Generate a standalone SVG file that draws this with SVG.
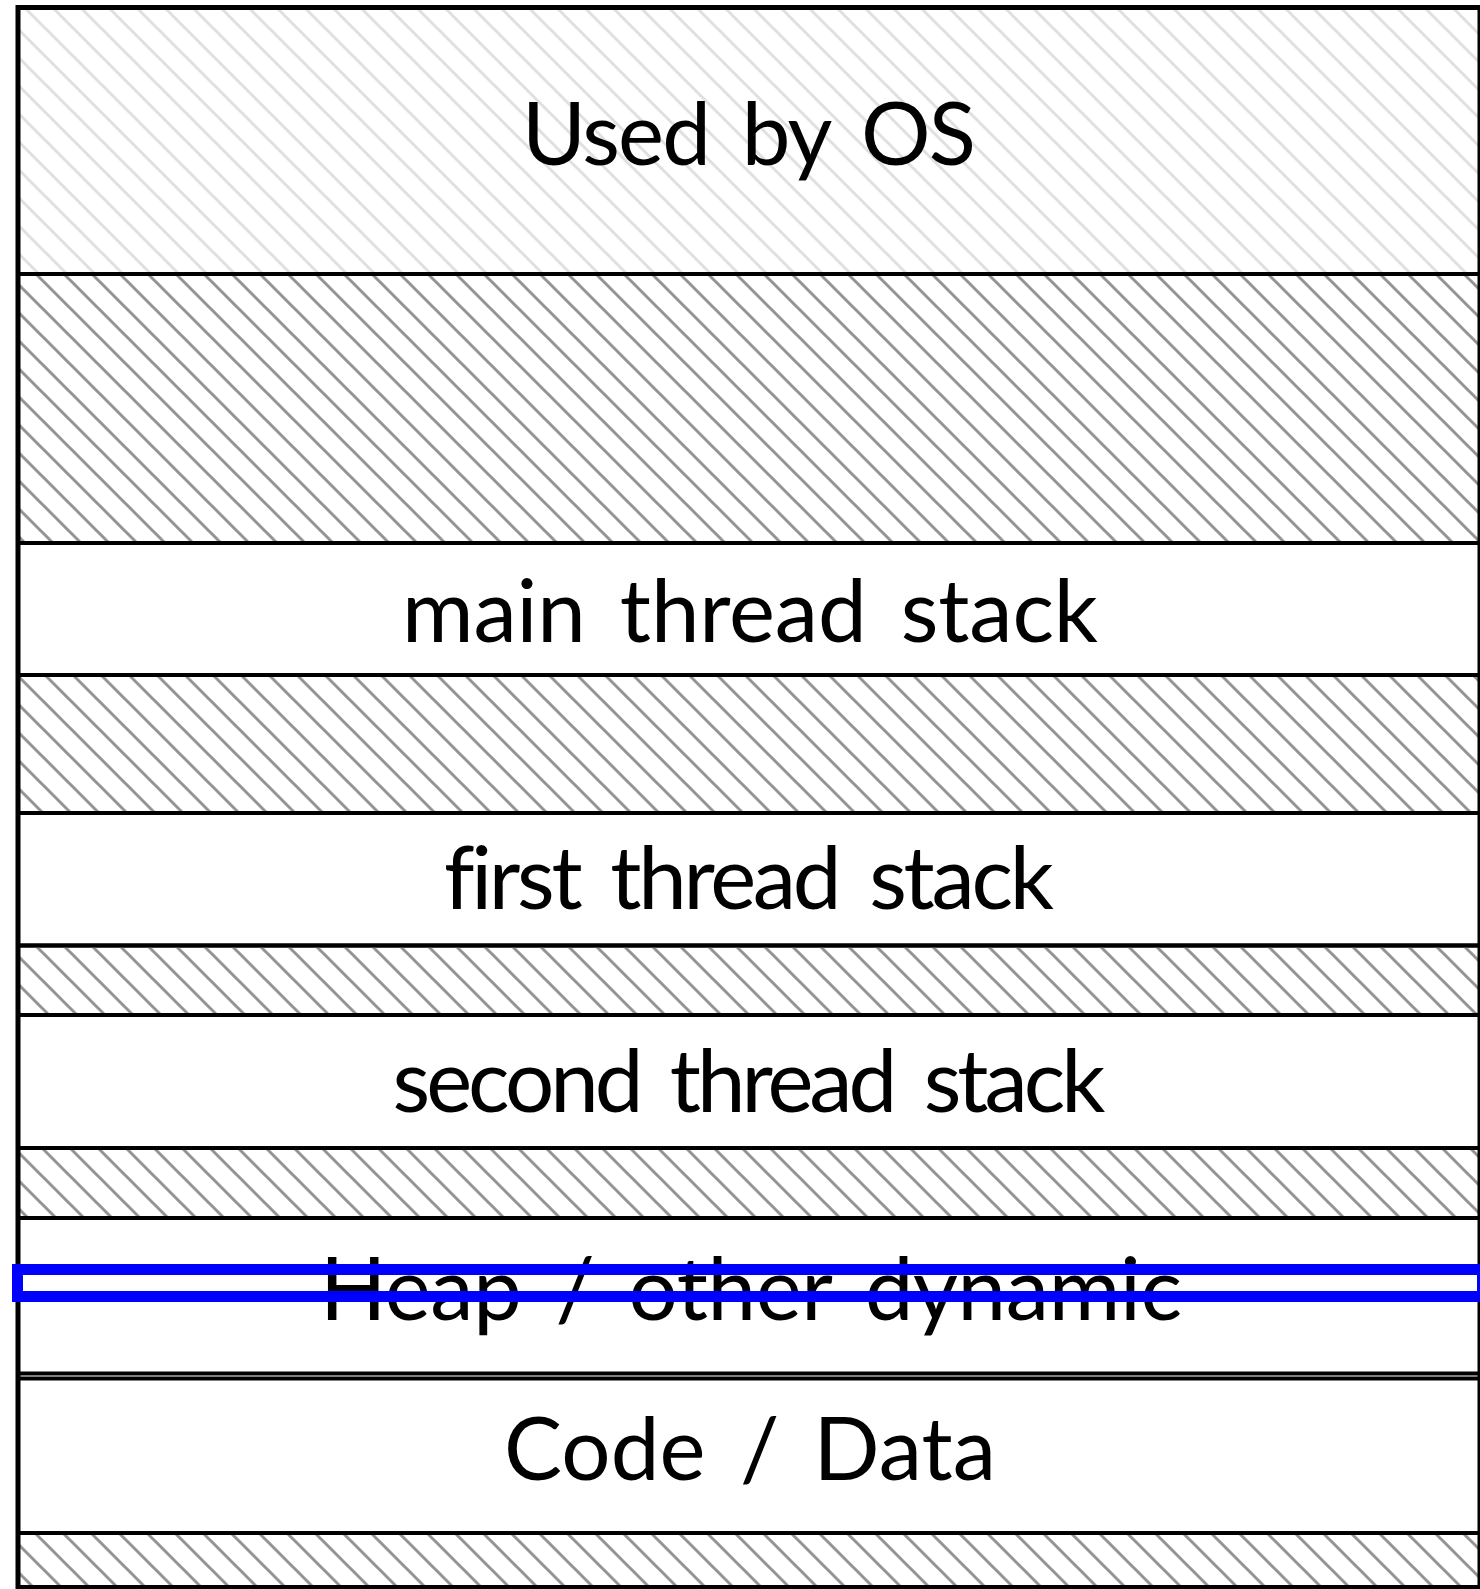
<svg xmlns="http://www.w3.org/2000/svg" width="1480" height="1589" viewBox="0 0 1480 1589">
  <defs>
    <pattern id="hatchDark" patternUnits="userSpaceOnUse" width="28" height="28" patternTransform="translate(14,0)">
      <path d="M-7,21 L7,35 M0,0 L28,28 M21,-7 L35,7" stroke="#949494" stroke-width="3" fill="none"/>
    </pattern>
    <pattern id="hatchLight" patternUnits="userSpaceOnUse" width="28" height="28" patternTransform="translate(17,0)">
      <path d="M-7,21 L7,35 M0,0 L28,28 M21,-7 L35,7" stroke="#e0e0e0" stroke-width="3" fill="none"/>
    </pattern>
    <style>
      .box { stroke: #000; stroke-width: 4; }
      .white { fill: #fff; }
      .dark { fill: url(#hatchDark); }
      .light { fill: url(#hatchLight); }
      .lbl { font-family: Lato, "Liberation Sans", sans-serif; font-size: 87px; fill: #000; text-anchor: middle; word-spacing: 12px; font-variant-ligatures: none; }
    </style>
  </defs>
  <rect x="0" y="0" width="1480" height="1589" fill="#fff"/>

  <g id="used-by-os">
    <rect class="box light" x="18" y="7" width="1462" height="267"/>
    <text class="lbl" x="749" y="165" textLength="454" lengthAdjust="spacing">Used by OS</text>
  </g>
  <g id="free-1">
    <rect class="box dark" x="18" y="274" width="1462" height="269"/>
  </g>
  <g id="main-thread-stack">
    <rect class="box white" x="18" y="543" width="1462" height="132"/>
    <text class="lbl" x="750" y="642" textLength="696" lengthAdjust="spacing">main thread stack</text>
  </g>
  <g id="free-2">
    <rect class="box dark" x="18" y="675" width="1462" height="138"/>
  </g>
  <g id="first-thread-stack">
    <rect class="box white" x="18" y="813" width="1462" height="132.5"/>
    <text class="lbl" x="749" y="909" textLength="610" lengthAdjust="spacing">first thread stack</text>
  </g>
  <g id="free-3">
    <rect class="box dark" x="18" y="945.5" width="1462" height="69.5"/>
  </g>
  <g id="second-thread-stack">
    <rect class="box white" x="18" y="1015" width="1462" height="133"/>
    <text class="lbl" x="749" y="1112" textLength="713" lengthAdjust="spacing">second thread stack</text>
  </g>
  <g id="free-4">
    <rect class="box dark" x="18" y="1148" width="1462" height="70"/>
  </g>
  <g id="heap">
    <rect class="box white" x="18" y="1218" width="1462" height="155.5"/>
    <text class="lbl" x="751" y="1320" textLength="862" lengthAdjust="spacing">Heap / other dynamic</text>
  </g>
  <g id="code-data">
    <rect class="box white" x="18" y="1378.5" width="1462" height="154.5"/>
    <text class="lbl" x="750" y="1480" textLength="492" lengthAdjust="spacing">Code / Data</text>
  </g>
  <g id="free-5">
    <rect class="box dark" x="18" y="1533" width="1462" height="55"/>
  </g>

  <g id="frame">
    <rect x="18" y="7.5" width="1462" height="1580" fill="none" stroke="#000" stroke-width="5"/>
  </g>

  <g id="highlight">
    <rect x="17.5" y="1269.5" width="1465" height="27" fill="none" stroke="#0000ff" stroke-width="11"/>
  </g>

  <g id="connectors"></g>
</svg>
